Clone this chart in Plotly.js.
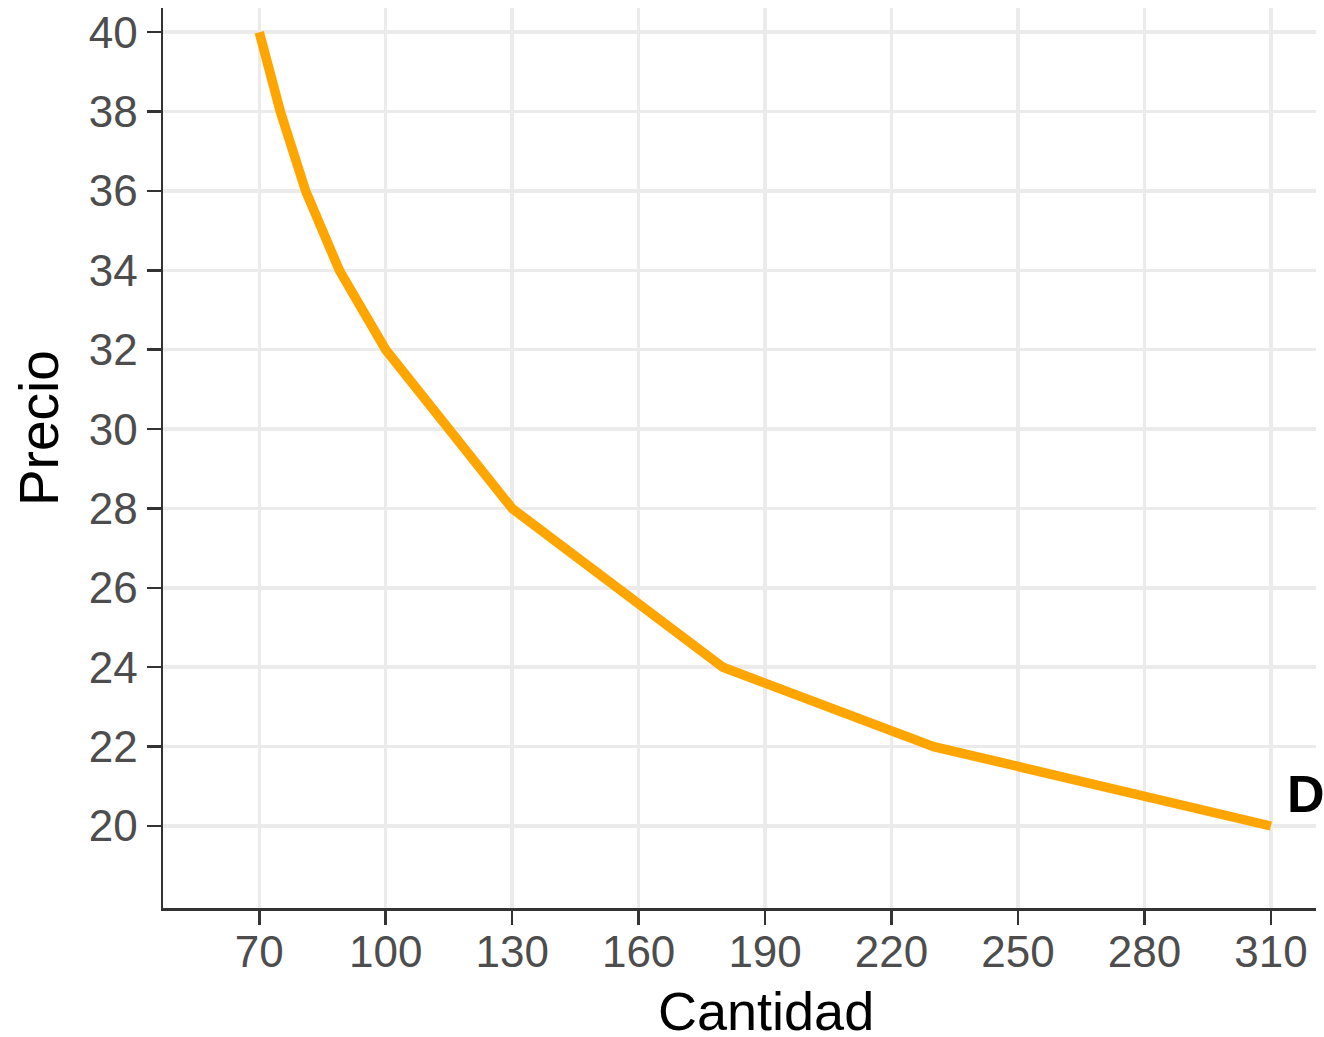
<!DOCTYPE html>
<html>
<head>
<meta charset="utf-8">
<script src="https://cdn.plot.ly/plotly-3.0.1.min.js"></script>
<style>html,body{margin:0;padding:0;background:#fff;}#chart{width:1324px;height:1037px;}</style>
</head>
<body>
<div id="chart"></div>
<script>
const cantidad = [70, 75, 81, 89, 100, 130, 180, 230, 310];
const precio = [40, 38, 36, 34, 32, 28, 24, 22, 20];
const xTicks = [70, 100, 130, 160, 190, 220, 250, 280, 310];
const yTicks = [20, 22, 24, 26, 28, 30, 32, 34, 36, 38, 40];
const curveLabel = "D";
const labelPos = {x: 318.3, y: 20.8};
const xTitle = "Cantidad";
const yTitle = "Precio";

const font = "Liberation Sans, Arial, sans-serif";
const trace = {
  x: cantidad, y: precio, type: "scatter", mode: "lines",
  line: {color: "#FFA500", width: 9.5},
  hoverinfo: "skip", showlegend: false
};
const axisCommon = {
  showline: true, linecolor: "#333333", linewidth: 2.5,
  ticks: "outside", ticklen: 14, tickwidth: 2.5, tickcolor: "#333333",
  showgrid: true, gridcolor: "#EBEBEB", gridwidth: 3.5,
  zeroline: false, mirror: false,
  tickfont: {family: font, size: 44, color: "#4D4D4D"}
};
const layout = {
  width: 1324, height: 1037,
  margin: {l: 163, r: 8, t: 8, b: 129},
  paper_bgcolor: "#FFFFFF", plot_bgcolor: "#FFFFFF",
  xaxis: Object.assign({}, axisCommon, {
    range: [47.16, 320.7], tickmode: "array", tickvals: xTicks,
    ticktext: xTicks.map(String), ticklabelstandoff: -10
  }),
  yaxis: Object.assign({}, axisCommon, {
    range: [17.934, 40.61], tickmode: "array", tickvals: yTicks,
    ticktext: yTicks.map(String)
  }),
  annotations: [{
    x: labelPos.x, y: labelPos.y, xref: "x", yref: "y",
    text: "<b>" + curveLabel + "</b>", showarrow: false,
    font: {family: font, size: 52, color: "#000000"},
    xanchor: "center", yanchor: "middle"
  }, {
    x: 0.523, y: -0.114, xref: "paper", yref: "paper",
    text: xTitle, showarrow: false,
    font: {family: font, size: 54, color: "#000000"},
    xanchor: "center", yanchor: "middle"
  }, {
    x: -0.1075, y: 0.5333, xref: "paper", yref: "paper",
    text: yTitle, showarrow: false, textangle: -90,
    font: {family: font, size: 55, color: "#000000"},
    xanchor: "center", yanchor: "middle"
  }]
};
Plotly.newPlot("chart", [trace], layout, {displayModeBar: false, staticPlot: true});
</script>
</body>
</html>
